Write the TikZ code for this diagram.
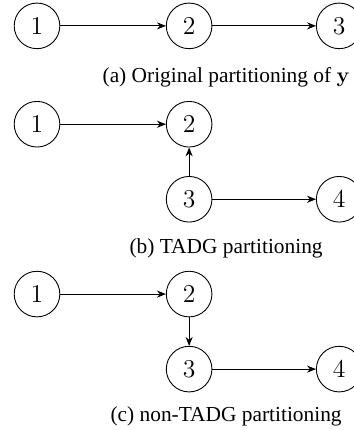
\documentclass[tikz,border=0pt]{standalone}
\usepackage[no-math]{fontspec}
\setmainfont{Liberation Serif}
\usetikzlibrary{arrows.meta}
\begin{document}
\begin{tikzpicture}[
  vert/.style={circle, draw, line width=0.5pt, minimum size=0.9cm, inner sep=0pt, font=\fontsize{14.4}{16}\selectfont},
  edge/.style={line width=0.5pt, -{Stealth[length=5pt,width=4pt]}},
  capt/.style={anchor=base, font=\fontsize{12}{14}\selectfont, inner sep=0pt}
]
\useasboundingbox (0,0) rectangle (6.982,-8.481);
% (a)
\node[vert] (a1) at (0.73,-0.51) {$1$};
\node[vert] (a2) at (3.73,-0.51) {$2$};
\node[vert] (a3) at (6.69,-0.51) {$3$};
\draw[edge] (a1) -- (a2);
\draw[edge] (a2) -- (a3);
\node[capt] (ca) at (4.46,-1.62) {(a) Original partitioning of $\mathbf{y}$};
% (b)
\node[vert] (b1) at (0.73,-2.45) {$1$};
\node[vert] (b2) at (3.73,-2.45) {$2$};
\node[vert] (b3) at (3.73,-3.93) {$3$};
\node[vert] (b4) at (6.69,-3.93) {$4$};
\draw[edge] (b1) -- (b2);
\draw[edge] (b3) -- (b2);
\draw[edge] (b3) -- (b4);
\node[capt] (cb) at (4.46,-4.99) {(b) TADG partitioning};
% (c)
\node[vert] (c1) at (0.73,-5.80) {$1$};
\node[vert] (c2) at (3.73,-5.80) {$2$};
\node[vert] (c3) at (3.73,-7.28) {$3$};
\node[vert] (c4) at (6.69,-7.28) {$4$};
\draw[edge] (c1) -- (c2);
\draw[edge] (c2) -- (c3);
\draw[edge] (c3) -- (c4);
\node[capt] (cc) at (4.46,-8.32) {(c) non-TADG partitioning};
\end{tikzpicture}
\end{document}
